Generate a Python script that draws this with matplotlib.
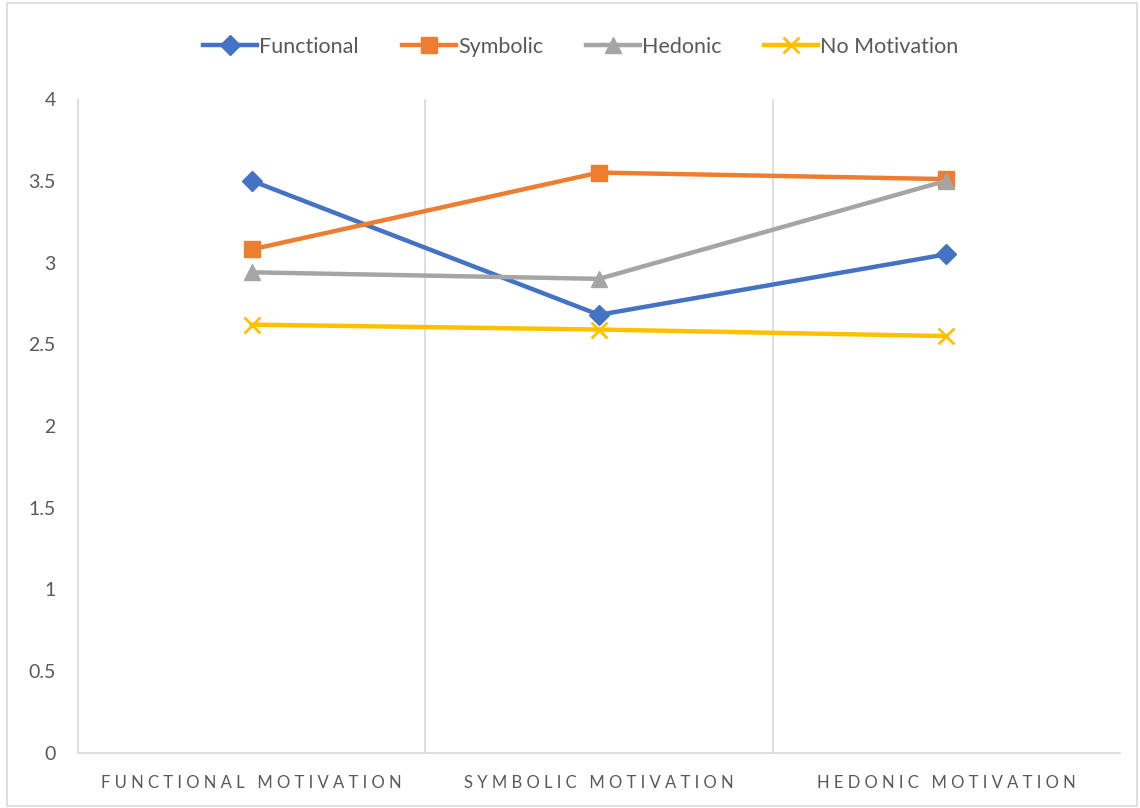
import numpy as np
import matplotlib.pyplot as plt
from matplotlib.patches import Rectangle

# data
categories = ["FUNCTIONAL MOTIVATION", "SYMBOLIC MOTIVATION", "HEDONIC MOTIVATION"]
functional = [3.50, 2.68, 3.05]
symbolic = [3.08, 3.55, 3.51]
hedonic = [2.94, 2.90, 3.50]
no_motivation = [2.62, 2.59, 2.55]
yticks = [0, 0.5, 1, 1.5, 2, 2.5, 3, 3.5, 4]

plt.rcParams['font.family'] = ['Lato', 'DejaVu Sans']
txt = '#595959'
grid = '#D9D9D9'

fig = plt.figure(figsize=(11.4, 8.08), dpi=100)
ax = fig.add_axes([78/1140, 1 - 753/808, (1120-78)/1140, (753-99)/808])

x = np.arange(len(categories))
ax.plot(x, functional, color='#4472C4', lw=3.2, marker='D', ms=10, label='Functional')
ax.plot(x, symbolic, color='#ED7D31', lw=3.2, marker='s', ms=12, label='Symbolic')
ax.plot(x, hedonic, color='#A5A5A5', lw=3.2, marker='^', ms=12, label='Hedonic')
ax.plot(x, no_motivation, color='#FFC000', lw=3.2, marker='x', ms=12, mew=2, label='No Motivation')

ax.set_xlim(-0.5, len(categories) - 0.5)
ax.set_ylim(0, 4)
ax.set_yticks(yticks)
ax.set_yticklabels([f'{v:g}' for v in yticks], fontsize=14, color=txt)
ax.tick_params(axis='y', length=0, pad=16)

# category separators
for b in x[:-1] + 0.5:
    ax.axvline(b, color=grid, lw=1.2, zorder=0)

ax.set_xticks(x)
ax.set_xticklabels(['   '.join(' '.join(w) for w in c.split(' ')) for c in categories],
                   fontsize=12, color=txt)
ax.tick_params(axis='x', length=0, pad=16)

for s in ['top', 'right']:
    ax.spines[s].set_visible(False)
for s in ['left', 'bottom']:
    ax.spines[s].set_color(grid)
    ax.spines[s].set_linewidth(1.2)

leg = fig.legend(loc='center', bbox_to_anchor=(0.5 + 11/1140, 1 - 47/808), ncol=4, frameon=False,
                 fontsize=15.5, handlelength=2.5, handletextpad=0.1, columnspacing=2.0)
for t in leg.get_texts():
    t.set_color(txt)

# chart area border
fig.patches.append(Rectangle((7/1140, 2/808), 1 - 10/1140, 1 - 5/808, transform=fig.transFigure,
                             fill=False, edgecolor=grid, lw=1.2))

fig.savefig('out.png', dpi=100)
